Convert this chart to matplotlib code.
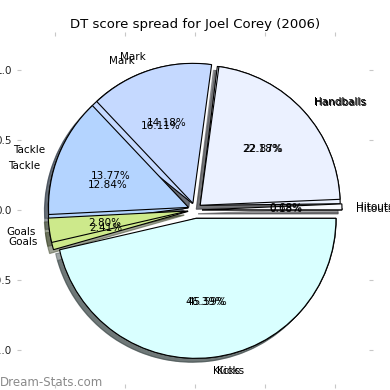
"""DT score spread pie (two seasons' breakdowns drawn on one axes)."""

import matplotlib
matplotlib.use("Agg")
import matplotlib.pyplot as plt

labels = ["Hitouts", "Handballs", "Mark", "Tackle", "Goals", "Kicks"]
colors = ["#f7f8fc", "#ebf1ff", "#c5d9ff", "#b4d4ff", "#cde98b", "#d9ffff"]

# percentage share of DT score per stat
spread_a = [0.18, 22.87, 16.11, 12.84, 2.41, 45.59]
spread_b = [0.68, 22.18, 14.18, 13.77, 2.80, 46.39]

explode = [0.05, 0.05, 0.05, 0.05, 0.05, 0.06]

fig = plt.figure(figsize=(3.9, 3.9), dpi=100)
ax = fig.add_axes([21 / 390, 6 / 390, 348 / 390, 348 / 390])

for spread in (spread_a, spread_b):
    wedges, texts, autotexts = ax.pie(
        spread,
        labels=labels,
        colors=colors,
        explode=explode,
        autopct="%1.2f%%",
        shadow=True,
        startangle=0,
        frame=True,
        wedgeprops={"edgecolor": "black", "linewidth": 0.8},
        textprops={"fontsize": 7.5},
    )

ax.set_aspect("equal")
ax.set_xlim(-1.243, 1.243)
ax.set_ylim(-1.243, 1.243)
ax.set_xticks([-1.0, -0.5, 0.0, 0.5, 1.0])
ax.set_yticks([-1.0, -0.5, 0.0, 0.5, 1.0])
for s in ax.spines.values():
    s.set_visible(False)
ax.tick_params(axis="both", which="both", top=True, right=True, direction="out",
               length=3, color="#c8c8c8", labelsize=7.5, labelcolor="#222222")

ax.set_title("DT score spread for Joel Corey (2006)", fontsize=9.5, pad=6)

fig.text(0.0, 0.01, "Dream-Stats.com", fontsize=8.5, color="#8a8a8a")

plt.savefig("out.png", dpi=100)
